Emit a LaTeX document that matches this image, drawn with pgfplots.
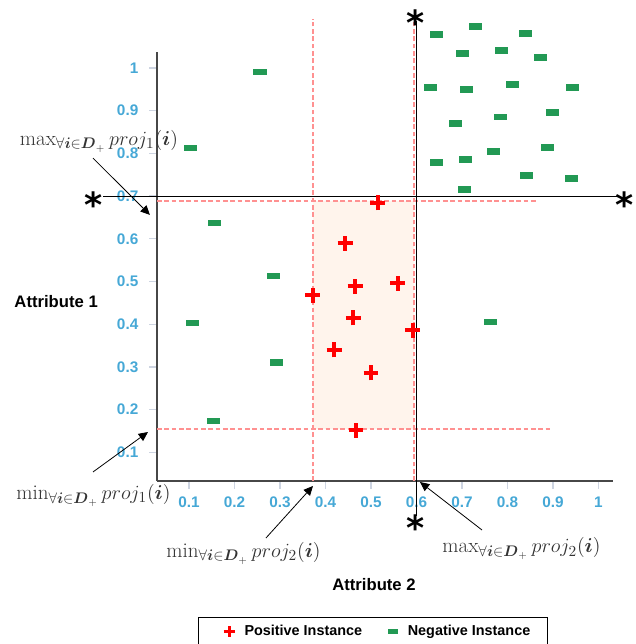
\documentclass[border=0pt]{standalone}
\usepackage{amsmath}
\usepackage{pgfplots}
\pgfplotsset{compat=1.18}
\usepackage{fontspec}
\setsansfont{Liberation Sans}
\newfontfamily\djv{DejaVu Sans}
\usetikzlibrary{arrows.meta}
\definecolor{tickblue}{RGB}{70,168,214}
\definecolor{negg}{RGB}{34,153,84}
\definecolor{shade}{RGB}{255,244,236}
\definecolor{dashred}{RGB}{255,145,145}
\definecolor{tickgray}{RGB}{205,212,225}
\pgfdeclareplotmark{fatplus}{%
  \pgfsetlinewidth{3pt}\pgfsetbuttcap
  \pgfpathmoveto{\pgfpoint{-5.6pt}{0pt}}\pgfpathlineto{\pgfpoint{5.6pt}{0pt}}%
  \pgfpathmoveto{\pgfpoint{0pt}{-5.6pt}}\pgfpathlineto{\pgfpoint{0pt}{5.6pt}}%
  \pgfusepathqstroke}
\pgfdeclareplotmark{greenrect}{%
  \pgfpathrectangle{\pgfpoint{-4.9pt}{-2.5pt}}{\pgfpoint{9.8pt}{5pt}}\pgfusepathqfill}
\begin{document}
\begin{tikzpicture}
\begin{axis}[
  scale only axis, width=342pt, height=321.75pt,
  xmin=0.0297, xmax=1.0319, ymin=0.0328, ymax=1.0375,
  axis x line*=bottom, axis y line*=left,
  axis line style={-, draw=black!72, line width=1.3pt},
  xtick={0.1,0.2,0.3,0.4,0.5,0.6,0.7,0.8,0.9,1},
  ytick={0.1,0.2,0.3,0.4,0.5,0.6,0.7,0.8,0.9,1},
  tick align=outside, major tick length=6pt,
  tick style={draw=tickgray, line width=1pt},
  ticklabel style={font=\sffamily\bfseries\fontsize{11.5}{13}\selectfont, text=tickblue},
  yticklabel style={xshift=-4.5pt},
  xticklabel style={yshift=-2.5pt},
  /pgf/number format/assume math mode=true,
  clip=false,
  legend columns=2,
  legend style={at={(axis cs:0.1198,-0.2857)}, anchor=north west, draw=black, line width=0.8pt,
    font=\sffamily\bfseries\fontsize{10.8}{13}\selectfont,
    inner xsep=0pt, inner ysep=0pt, nodes={inner sep=0pt},
    row sep=0pt, column sep=0pt},
]
% shaded region and guide lines
\addplot[forget plot, fill=shade, draw=none] coordinates {(0.3725,0.155) (0.5945,0.155) (0.5945,0.688) (0.3725,0.688)} -- cycle;
\addplot[forget plot, draw=dashred, line width=1.1pt, dash pattern=on 3.5pt off 2pt] coordinates {(0.0297,0.688) (0.865,0.688)};
\addplot[forget plot, draw=dashred, line width=1.1pt, dash pattern=on 3.5pt off 2pt] coordinates {(0.0297,0.155) (0.895,0.155)};
\addplot[forget plot, draw=dashred, line width=1.1pt, dash pattern=on 3.5pt off 2pt] coordinates {(0.3725,0.0328) (0.3725,1.115)};
\addplot[forget plot, draw=dashred, line width=1.1pt, dash pattern=on 3.5pt off 2pt] coordinates {(0.5945,0.0328) (0.5945,1.11)};
\addplot[forget plot, draw=black, line width=0.9pt] coordinates {(-0.089,0.6995) (1.047,0.6995)};
\addplot[forget plot, draw=black, line width=0.9pt] coordinates {(0.5996,-0.05) (0.5996,1.11)};
% data
\addplot[only marks, mark=fatplus, color=red,
  legend image code/.code={\path[draw=none,fill=none] (-22.9pt,-16pt) rectangle (11.6pt,10.5pt);
    \draw[red, line width=2.3pt] (-4.1pt,0pt) -- (4.1pt,0pt) (0pt,-4.1pt) -- (0pt,4.1pt);}]
coordinates {
(0.515,0.684) (0.443,0.590) (0.465,0.489) (0.559,0.496) (0.372,0.468)
(0.461,0.415) (0.592,0.386) (0.419,0.340) (0.500,0.286) (0.467,0.152)
};
\addlegendentry{Positive Instance}
\addplot[only marks, mark=greenrect, color=negg,
  legend image code/.code={\path[draw=none,fill=none] (-23pt,-16pt) rectangle (11.25pt,10.5pt);
    \fill[negg] (-3.1pt,-1.8pt) rectangle (3.1pt,1.8pt);}]
coordinates {
(0.256,0.991) (0.104,0.813) (0.157,0.637) (0.285,0.513) (0.107,0.403)
(0.293,0.311) (0.153,0.173) (0.762,0.405)
(0.643,1.079) (0.729,1.098) (0.839,1.081) (0.701,1.034) (0.786,1.041)
(0.872,1.025) (0.630,0.955) (0.709,0.950) (0.811,0.962) (0.942,0.955)
(0.685,0.870) (0.784,0.885) (0.898,0.896) (0.643,0.779) (0.707,0.786)
(0.769,0.805) (0.887,0.814) (0.841,0.749) (0.940,0.742) (0.705,0.716)
};
\addlegendentry{Negative Instance\hspace*{13pt}}
% stars
\node[font=\djv\bfseries\fontsize{26}{26}\selectfont, inner sep=0pt, yshift=-5.5pt] at (axis cs:-0.110,0.698) {*};
\node[font=\djv\bfseries\fontsize{26}{26}\selectfont, inner sep=0pt, yshift=-5.5pt] at (axis cs:1.058,0.698) {*};
\node[font=\djv\bfseries\fontsize{26}{26}\selectfont, inner sep=0pt, yshift=-5.5pt] at (axis cs:0.597,1.124) {*};
\node[font=\djv\bfseries\fontsize{26}{26}\selectfont, inner sep=0pt, yshift=-5.5pt] at (axis cs:0.597,-0.059) {*};
% axis titles
\node[font=\sffamily\bfseries\fontsize{12.5}{15}\selectfont] at (axis cs:-0.192,0.452) {Attribute 1};
\node[font=\sffamily\bfseries\fontsize{12.5}{15}\selectfont] at (axis cs:0.5066,-0.2108) {Attribute 2};
% annotations
\node[font=\fontsize{15}{18}\selectfont, text=black!80, scale=1.05, transform shape] at (axis cs:-0.0978,0.829) {$\max_{\forall \boldsymbol{i}\in \boldsymbol{D}_+} proj_1(\boldsymbol{i})$};
\node[font=\fontsize{15}{18}\selectfont, text=black!80, scale=1.05, transform shape] at (axis cs:-0.110,-0.0023) {$\min_{\forall \boldsymbol{i}\in \boldsymbol{D}_+} proj_1(\boldsymbol{i})$};
\node[font=\fontsize{15}{18}\selectfont, text=black!80, scale=1.05, transform shape] at (axis cs:0.2198,-0.136) {$\min_{\forall \boldsymbol{i}\in \boldsymbol{D}_+} proj_2(\boldsymbol{i})$};
\node[font=\fontsize{15}{18}\selectfont, text=black!80, scale=1.05, transform shape] at (axis cs:0.8308,-0.1265) {$\max_{\forall \boldsymbol{i}\in \boldsymbol{D}_+} proj_2(\boldsymbol{i})$};
\draw[-{Triangle[length=7pt,width=6.5pt]}, line width=0.6pt] (axis cs:-0.111,0.789) -- (axis cs:0.0141,0.656);
\draw[-{Triangle[length=7pt,width=6.5pt]}, line width=0.6pt] (axis cs:-0.111,0.0539) -- (axis cs:0.0099,0.1475);
\draw[-{Triangle[length=7pt,width=6.5pt]}, line width=0.6pt] (axis cs:0.2692,-0.1007) -- (axis cs:0.3725,0.0211);
\draw[-{Triangle[length=7pt,width=6.5pt]}, line width=0.6pt] (axis cs:0.7440,-0.082) -- (axis cs:0.6077,0.0304);
\coordinate (BBsw) at (axis cs:-0.3154,-0.349);
\coordinate (BBne) at (axis cs:1.0824,1.1593);
\end{axis}
\pgfresetboundingbox
\useasboundingbox (BBsw) rectangle (BBne);
\end{tikzpicture}
\end{document}
